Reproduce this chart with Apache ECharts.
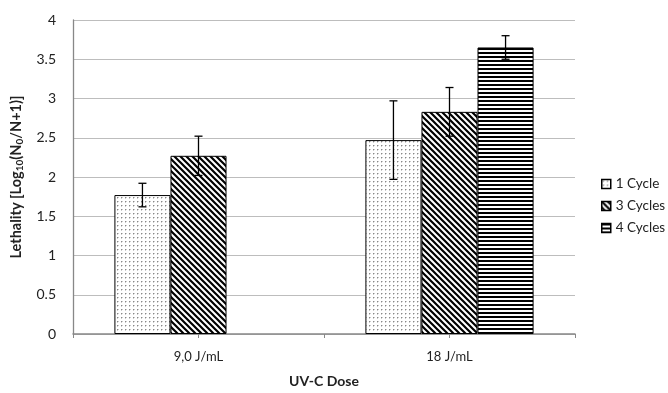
<!DOCTYPE html>
<html><head><meta charset="utf-8">
<script src="https://cdn.jsdelivr.net/npm/echarts@6/dist/echarts.min.js"></script>
<style>html,body{margin:0;padding:0;background:#fff}#c{width:668px;height:393px}</style>
</head><body><div id="c"></div>
<script>
const categories = ['9,0 J/mL', '18 J/mL'];
const seriesNames = ['1 Cycle', '3 Cycles', '4 Cycles'];
const oneCycle = [1.77, 2.47];
const oneCycleErr = [0.15, 0.5];
const threeCycles = [2.27, 2.83];
const threeCyclesErr = [0.25, 0.31];
const fourCycles = [null, 3.65];
const fourCyclesErr = [null, 0.15];
const yTicks = [0, 0.5, 1, 1.5, 2, 2.5, 3, 3.5, 4];

function makePattern(kind) {
  const c = document.createElement('canvas');
  const ctx = c.getContext('2d');
  if (kind === 'dots') {
    c.width = 4; c.height = 4;
    ctx.fillStyle = '#fff'; ctx.fillRect(0,0,4,4);
    ctx.fillStyle = '#888'; ctx.fillRect(1,1,1,1);
    ctx.fillStyle = '#ccc'; ctx.fillRect(2,1,1,1); ctx.fillRect(1,2,1,1);
  } else if (kind === 'diag') {
    c.width = 6; c.height = 6;
    ctx.fillStyle = '#fff'; ctx.fillRect(0,0,6,6);
    ctx.strokeStyle = '#000'; ctx.lineWidth = 2.2;
    ctx.beginPath();
    ctx.moveTo(-3,-3); ctx.lineTo(9,9);
    ctx.moveTo(-9,-3); ctx.lineTo(3,9);
    ctx.moveTo(3,-3); ctx.lineTo(15,9);
    ctx.stroke();
  } else {
    c.width = 4; c.height = 4;
    ctx.fillStyle = '#fff'; ctx.fillRect(0,0,4,4);
    ctx.fillStyle = '#000'; ctx.fillRect(0,0,4,2);
  }
  return {image: c, repeat: 'repeat'};
}

const patterns = [makePattern('dots'), makePattern('diag'), makePattern('horiz')];
const values = [oneCycle, threeCycles, fourCycles];
const errs = [oneCycleErr, threeCyclesErr, fourCyclesErr];
const catGap = 0.33;

const series = [];
values.forEach((v, i) => {
  series.push({
    name: seriesNames[i], type: 'bar', data: v, barGap: 0, barCategoryGap: '33%',
    itemStyle: {color: patterns[i], borderColor: '#000', borderWidth: 1},
    emphasis: {disabled: true}
  });
});
values.forEach((v, i) => {
  series.push({
    type: 'custom', silent: true, z: 10,
    data: v.map((val, k) => [k, val, errs[i][k]]).filter(d => d[1] != null),
    renderItem: function (params, api) {
      const k = api.value(0), val = api.value(1), e = api.value(2);
      const bw = api.size([1, 0])[0] * (1 - catGap) / 3;
      const c = api.coord([k, val]);
      const x = c[0] + (i - 1) * bw;
      const yHi = api.coord([k, val + e])[1];
      const yLo = api.coord([k, val - e])[1];
      const st = {stroke: '#000', lineWidth: 1.3};
      return {type: 'group', children: [
        {type: 'line', shape: {x1: x, y1: yHi, x2: x, y2: yLo}, style: st},
        {type: 'line', shape: {x1: x - 4, y1: yHi, x2: x + 4, y2: yHi}, style: st},
        {type: 'line', shape: {x1: x - 4, y1: yLo, x2: x + 4, y2: yLo}, style: st}
      ]};
    }
  });
});

const font = 'Lato, "Open Sans", sans-serif';
const chart = echarts.init(document.getElementById('c'));
chart.setOption({
  animation: false,
  textStyle: {fontFamily: font},
  grid: {left: 73, right: 93, top: 20, bottom: 52},
  legend: {
    orient: 'vertical', left: 596, top: 172, itemWidth: 9, itemHeight: 9, itemGap: 8,
    icon: 'rect',
    data: seriesNames, textStyle: {fontSize: 13.5, color: '#222', fontFamily: font},
    itemStyle: {borderColor: '#000', borderWidth: 1.5}
  },
  xAxis: [{
    type: 'category', data: categories,
    axisLine: {lineStyle: {color: '#888', width: 1.5}},
    axisTick: {show: true, length: 4, lineStyle: {color: '#888'}},
    axisLabel: {fontSize: 13, color: '#222', margin: 16},
    name: 'UV-C Dose', nameLocation: 'middle', nameGap: 40,
    nameTextStyle: {fontSize: 14, fontWeight: 'bold', color: '#222'}
  }, {
    type: 'category', data: categories, position: 'bottom',
    axisLine: {show: false}, axisLabel: {show: false},
    axisTick: {show: true, alignWithLabel: true, length: 4, lineStyle: {color: '#888'}}
  }],
  yAxis: {
    type: 'value', min: yTicks[0], max: yTicks[yTicks.length - 1], interval: 0.5,
    axisLine: {show: true, lineStyle: {color: '#888', width: 1.3}},
    axisTick: {show: false},
    splitLine: {lineStyle: {color: '#bdbdbd', width: 1}},
    axisLabel: {fontSize: 14, color: '#222', margin: 17},
    name: '{a|Lethality [Log}{s|10}{a|(N}{s|0}{a|/N+1)]}',
    nameLocation: 'middle', nameRotate: 90, nameGap: 48,
    nameTextStyle: {
      rich: {
        a: {fontSize: 14.5, fontWeight: 'bold', color: '#222', fontFamily: font},
        s: {fontSize: 10, fontWeight: 'bold', color: '#222', fontFamily: font, padding: [7, 0, 0, 0]}
      }
    }
  },
  series: series
});
</script></body></html>
